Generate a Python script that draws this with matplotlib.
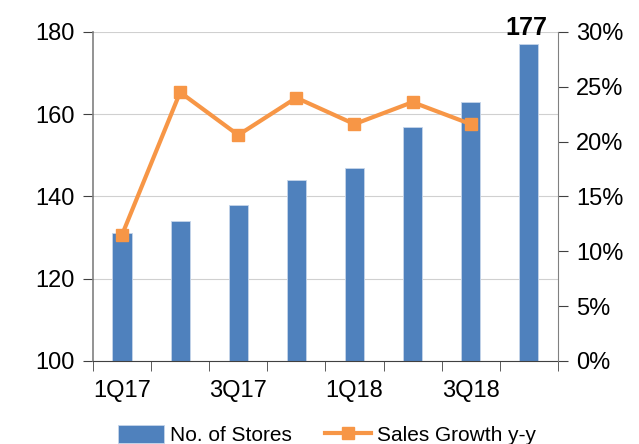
import matplotlib
matplotlib.use("Agg")
import matplotlib.pyplot as plt
from matplotlib.ticker import FuncFormatter, FixedLocator

quarters = ["1Q17", "2Q17", "3Q17", "4Q17", "1Q18", "2Q18", "3Q18", "4Q18"]
stores = [131, 134, 138, 144, 147, 157, 163, 177]
growth_quarters = ["1Q17", "2Q17", "3Q17", "4Q17", "1Q18", "2Q18", "3Q18"]
sales_growth = [11.5, 24.5, 20.6, 24.0, 21.6, 23.6, 21.6]
tick_labels = ["1Q17", "", "3Q17", "", "1Q18", "", "3Q18", ""]

plt.rcParams["font.family"] = ["Liberation Sans", "DejaVu Sans"]

blue = "#4F81BD"
orange = "#F79646"

fig = plt.figure(figsize=(6.39, 4.44), dpi=100)
ax = fig.add_axes([0.1455, 0.187, 0.7275, 0.741])
x = list(range(len(quarters)))
ax.bar(x, stores, width=0.33, color=blue, edgecolor="#C6D5EA", linewidth=0.6, zorder=2,
       label="No. of Stores")
ax.set_ylim(100, 180)
ax.set_xlim(-0.5, len(quarters) - 0.5)
ax.set_yticks([100, 120, 140, 160, 180])
ax.yaxis.grid(True, color="#D0D0D0", linewidth=0.8, zorder=0)
ax.set_axisbelow(True)
ax.xaxis.set_major_locator(FixedLocator(x))
ax.set_xticklabels(tick_labels)
ax.tick_params(axis="x", which="major", length=0, pad=14)
ax.xaxis.set_minor_locator(FixedLocator([i - 0.5 for i in range(len(quarters) + 1)]))
ax.tick_params(axis="x", which="minor", length=7, direction="out", color="#404040")
ax.tick_params(axis="y", length=7, direction="out", color="#404040", pad=6)
for lab in ax.get_xticklabels() + ax.get_yticklabels():
    lab.set_fontsize(17)
for s in ["top", "right"]:
    ax.spines[s].set_visible(False)
ax.spines["left"].set_color("#808080")
ax.spines["left"].set_linewidth(1.2)
ax.spines["bottom"].set_color("#404040")

ax.annotate(str(stores[-1]), (x[-1], stores[-1]), xytext=(-2, 3), textcoords="offset points",
            ha="center", va="bottom", fontsize=18, fontweight="bold", annotation_clip=False)

ax2 = ax.twinx()
gx = [quarters.index(q) for q in growth_quarters]
ax2.plot(gx, sales_growth, color=orange, linewidth=3, marker="s", markersize=8,
         zorder=3, label="Sales Growth y-y")
ax2.set_ylim(0, 30)
ax2.set_yticks([0, 5, 10, 15, 20, 25, 30])
ax2.yaxis.set_major_formatter(FuncFormatter(lambda v, p: f"{v:.0f}%"))
ax2.tick_params(axis="y", length=7, direction="out", color="#404040", pad=6, labelsize=17)
for s in ["top", "left", "bottom"]:
    ax2.spines[s].set_visible(False)
ax2.spines["right"].set_color("#808080")
ax2.spines["right"].set_linewidth(0.8)

h1, l1 = ax.get_legend_handles_labels()
h2, l2 = ax2.get_legend_handles_labels()
fig.legend(h1 + h2, l1 + l2, loc="lower center", bbox_to_anchor=(0.512, -0.045), ncol=2,
           frameon=False, fontsize=15, handlelength=2.2, handleheight=0.9,
           handletextpad=0.3, columnspacing=1.6)

fig.savefig("out.png", dpi=100)
